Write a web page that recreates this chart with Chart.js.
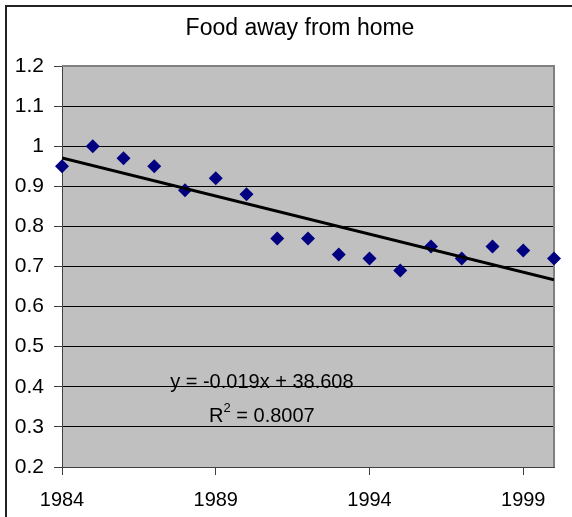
<!DOCTYPE html>
<html>
<head>
<meta charset="utf-8">
<script src="https://cdn.jsdelivr.net/npm/chart.js@4.4.0/dist/chart.umd.min.js"></script>
<style>
html, body { margin: 0; padding: 0; background: #fff; overflow: hidden; }
</style>
</head>
<body>
<canvas id="foodChart" width="572" height="517"></canvas>
<script>
var years = [1984, 1985, 1986, 1987, 1988, 1989, 1990, 1991, 1992, 1993, 1994, 1995, 1996, 1997, 1998, 1999, 2000];
var foodIndex = [0.95, 1.00, 0.97, 0.95, 0.89, 0.92, 0.88, 0.77, 0.77, 0.73, 0.72, 0.69, 0.75, 0.72, 0.75, 0.74, 0.72];
var xTicks = [1984, 1989, 1994, 1999];
var yTicks = [0.2, 0.3, 0.4, 0.5, 0.6, 0.7, 0.8, 0.9, 1.0, 1.1, 1.2];
var chartTitle = 'Food away from home';
var eqnText = 'y = -0.019x + 38.608';
var r2Value = ' = 0.8007';

var FONT = '"Liberation Sans", Arial, sans-serif';

// least squares fit, like the excel trendline
function linearFit(xs, ys) {
    var n = xs.length, mx = 0, my = 0;
    for (var i = 0; i < n; i++) { mx += xs[i]; my += ys[i]; }
    mx /= n; my /= n;
    var sxy = 0, sxx = 0;
    for (var j = 0; j < n; j++) {
        sxy += (xs[j] - mx) * (ys[j] - my);
        sxx += (xs[j] - mx) * (xs[j] - mx);
    }
    var slope = sxy / sxx;
    return { slope: slope, intercept: my - slope * mx };
}

var fit = linearFit(years, foodIndex);
var xMin = years[0], xMax = years[years.length - 1];

var points = years.map(function(y, i) { return { x: y, y: foodIndex[i] }; });
var trend = [
    { x: xMin, y: fit.intercept + fit.slope * xMin },
    { x: xMax, y: fit.intercept + fit.slope * xMax }
];

var excelLook = {
    id: 'excelLook',
    beforeDraw: function(chart) {
        var ctx = chart.ctx, a = chart.chartArea;
        ctx.save();
        ctx.fillStyle = '#fff';
        ctx.fillRect(0, 0, chart.width, chart.height);
        // outer chart frame, only left and top are in view
        ctx.strokeStyle = '#222';
        ctx.lineWidth = 2;
        ctx.beginPath();
        ctx.moveTo(6, chart.height + 5);
        ctx.lineTo(6, 6);
        ctx.lineTo(chart.width + 5, 6);
        ctx.stroke();
        ctx.fillStyle = '#c0c0c0';
        ctx.fillRect(a.left, a.top, a.right - a.left, a.bottom - a.top);
        ctx.fillStyle = '#000';
        ctx.font = '23px ' + FONT;
        ctx.textAlign = 'center';
        ctx.textBaseline = 'middle';
        ctx.fillText(chartTitle, 300, 29);
        ctx.restore();
    },
    beforeDatasetsDraw: function(chart) {
        var ctx = chart.ctx, a = chart.chartArea;
        ctx.save();
        ctx.strokeStyle = '#808080';
        ctx.lineWidth = 2;
        ctx.beginPath();
        ctx.moveTo(a.left, a.top);
        ctx.lineTo(a.right, a.top);
        ctx.lineTo(a.right, a.bottom);
        ctx.stroke();
        ctx.restore();
    },
    afterDraw: function(chart) {
        var ctx = chart.ctx;
        var xs = chart.scales.x, ys = chart.scales.y;
        var cx = xs.getPixelForValue(1990.5);
        ctx.save();
        ctx.fillStyle = '#000';
        ctx.textBaseline = 'middle';
        ctx.font = '20px ' + FONT;
        ctx.textAlign = 'center';
        ctx.fillText(eqnText, cx, ys.getPixelForValue(0.41));
        // R² line with superscript
        var r2y = ys.getPixelForValue(0.326);
        var wR = ctx.measureText('R').width;
        var wRest = ctx.measureText(r2Value).width;
        ctx.font = '13px ' + FONT;
        var w2 = ctx.measureText('2').width;
        var start = cx - (wR + w2 + wRest) / 2;
        ctx.textAlign = 'left';
        ctx.font = '20px ' + FONT;
        ctx.fillText('R', start, r2y);
        ctx.fillText(r2Value, start + wR + w2, r2y);
        ctx.font = '13px ' + FONT;
        ctx.fillText('2', start + wR, r2y - 8);
        ctx.restore();
    }
};

var ctx = document.getElementById('foodChart').getContext('2d');
var foodChart = new Chart(ctx, {
    type: 'scatter',
    data: {
        datasets: [{
            label: 'Trend',
            type: 'line',
            data: trend,
            borderColor: '#000',
            borderWidth: 3,
            pointRadius: 0,
            fill: false,
            order: 0
        }, {
            label: 'Food away from home',
            data: points,
            pointStyle: 'rectRot',
            pointRadius: 7,
            backgroundColor: '#000080',
            borderColor: '#000080',
            borderWidth: 0,
            clip: false,
            order: 1
        }]
    },
    options: {
        responsive: false,
        animation: false,
        layout: { padding: { top: 66, right: 18, left: 0, bottom: 0 } },
        plugins: {
            legend: { display: false },
            tooltip: { enabled: false }
        },
        scales: {
            x: {
                type: 'linear',
                min: xMin,
                max: xMax,
                afterBuildTicks: function(scale) {
                    scale.ticks = xTicks.map(function(v) { return { value: v }; });
                },
                afterFit: function(scale) { scale.height = 50; },
                grid: { drawOnChartArea: false, drawTicks: true, tickLength: 8, tickColor: '#404040' },
                border: { display: true, color: '#404040', width: 1 },
                ticks: {
                    color: '#000',
                    font: { family: FONT, size: 20 },
                    padding: 13,
                    maxRotation: 0,
                    callback: function(v) { return String(v); }
                }
            },
            y: {
                min: 0.2,
                max: 1.2,
                afterBuildTicks: function(scale) {
                    scale.ticks = yTicks.map(function(v) { return { value: v }; });
                },
                afterFit: function(scale) { scale.width = 62; },
                grid: { color: '#000', lineWidth: 1, drawTicks: true, tickLength: 8, tickColor: '#404040' },
                border: { display: true, color: '#404040', width: 1 },
                ticks: {
                    color: '#000',
                    font: { family: FONT, size: 21 },
                    padding: 10,
                    callback: function(v) { return String(Math.round(v * 10) / 10); }
                }
            }
        }
    },
    plugins: [excelLook]
});
</script>
</body>
</html>
